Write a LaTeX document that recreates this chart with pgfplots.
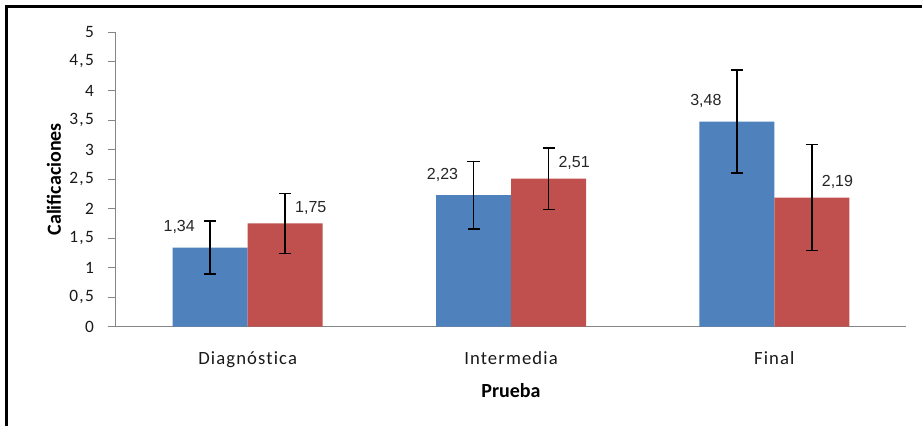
\documentclass[border=0pt]{standalone}
\usepackage{pgfplots}
\pgfplotsset{compat=1.18}
\usepackage{fontspec}
\setmainfont{Carlito}
\newfontfamily\tickfont[LetterSpace=8, Ligatures=NoCommon]{Carlito}
\newfontfamily\xtickfont[LetterSpace=6, Ligatures=NoCommon]{Carlito}
\newfontfamily\arialf{Liberation Sans}
\definecolor{xlblue}{HTML}{4F81BD}
\definecolor{xlred}{HTML}{C0504D}
\definecolor{axgray}{HTML}{868686}
\begin{document}
\begin{tikzpicture}[x=1pt,y=1pt]
\useasboundingbox (0,0) rectangle (691.5,319.5);
\fill[white] (0,0) rectangle (691.5,319.5);
\draw[line width=2.25pt, line join=miter] (4.9,0) -- (4.9,314.25) -- (691.5,314.25);
\begin{axis}[
  at={(87pt,74.6pt)}, anchor=south west,
  scale only axis, width=592.5pt, height=220.9pt,
  xmin=-0.5, xmax=2.5, ymin=0, ymax=5,
  axis x line*=bottom, axis y line*=left,
  axis line style={axgray, line width=0.75pt},
  ytick={0,0.5,1,1.5,2,2.5,3,3.5,4,4.5,5},
  yticklabels={0,{0,5},1,{1,5},2,{2,5},3,{3,5},4,{4,5},5},
  xtick={0,1,2},
  xticklabels={Diagnóstica,Intermedia,Final},
  tick align=outside, major tick length=6pt,
  ytick style={axgray, line width=0.75pt},
  xtick style={draw=none},
  yticklabel style={font=\tickfont\fontsize{13}{15}\selectfont, text=black!90, anchor=east, xshift=-7pt},
  xticklabel style={font=\xtickfont\fontsize{14}{16}\selectfont, text=black!90, anchor=base, yshift=-22.25pt},
  xlabel={Prueba}, ylabel={Calificaciones},
  xlabel style={font=\bfseries\fontsize{15}{17}\selectfont, at={(axis description cs:0.5,0)}, anchor=center, yshift=-48pt},
  ylabel style={font=\bfseries\fontsize{15}{17}\selectfont, at={(axis description cs:0,0.5)}, anchor=center, yshift=46.5pt},
  ybar=0pt, bar width=56.25pt,
  /pgf/number format/.cd, use comma, assume math mode=true,
]
\addplot+[fill=xlblue, draw=none,
  error bars/.cd, y dir=both, y explicit,
  error bar style={black, line width=1.2pt},
  error mark options={black, rotate=90, mark size=4.5pt, line width=1.2pt}]
  [nodes near coords, every node near coord/.append style={font=\arialf\fontsize{12}{14}\selectfont, text=black!85, anchor=south east, xshift=-8pt, yshift=7pt}]
  coordinates {(0,1.34) +- (0,0.45) (1,2.23) +- (0,0.57) (2,3.48) +- (0,0.87)};
\addplot+[fill=xlred, draw=none,
  error bars/.cd, y dir=both, y explicit,
  error bar style={black, line width=1.2pt},
  error mark options={black, rotate=90, mark size=4.5pt, line width=1.2pt}]
  [nodes near coords, every node near coord/.append style={font=\arialf\fontsize{12}{14}\selectfont, text=black!85, anchor=south west, xshift=4pt, yshift=3pt}]
  coordinates {(0,1.75) +- (0,0.51) (1,2.51) +- (0,0.52) (2,2.19) +- (0,0.90)};
\end{axis}
\end{tikzpicture}
\end{document}
